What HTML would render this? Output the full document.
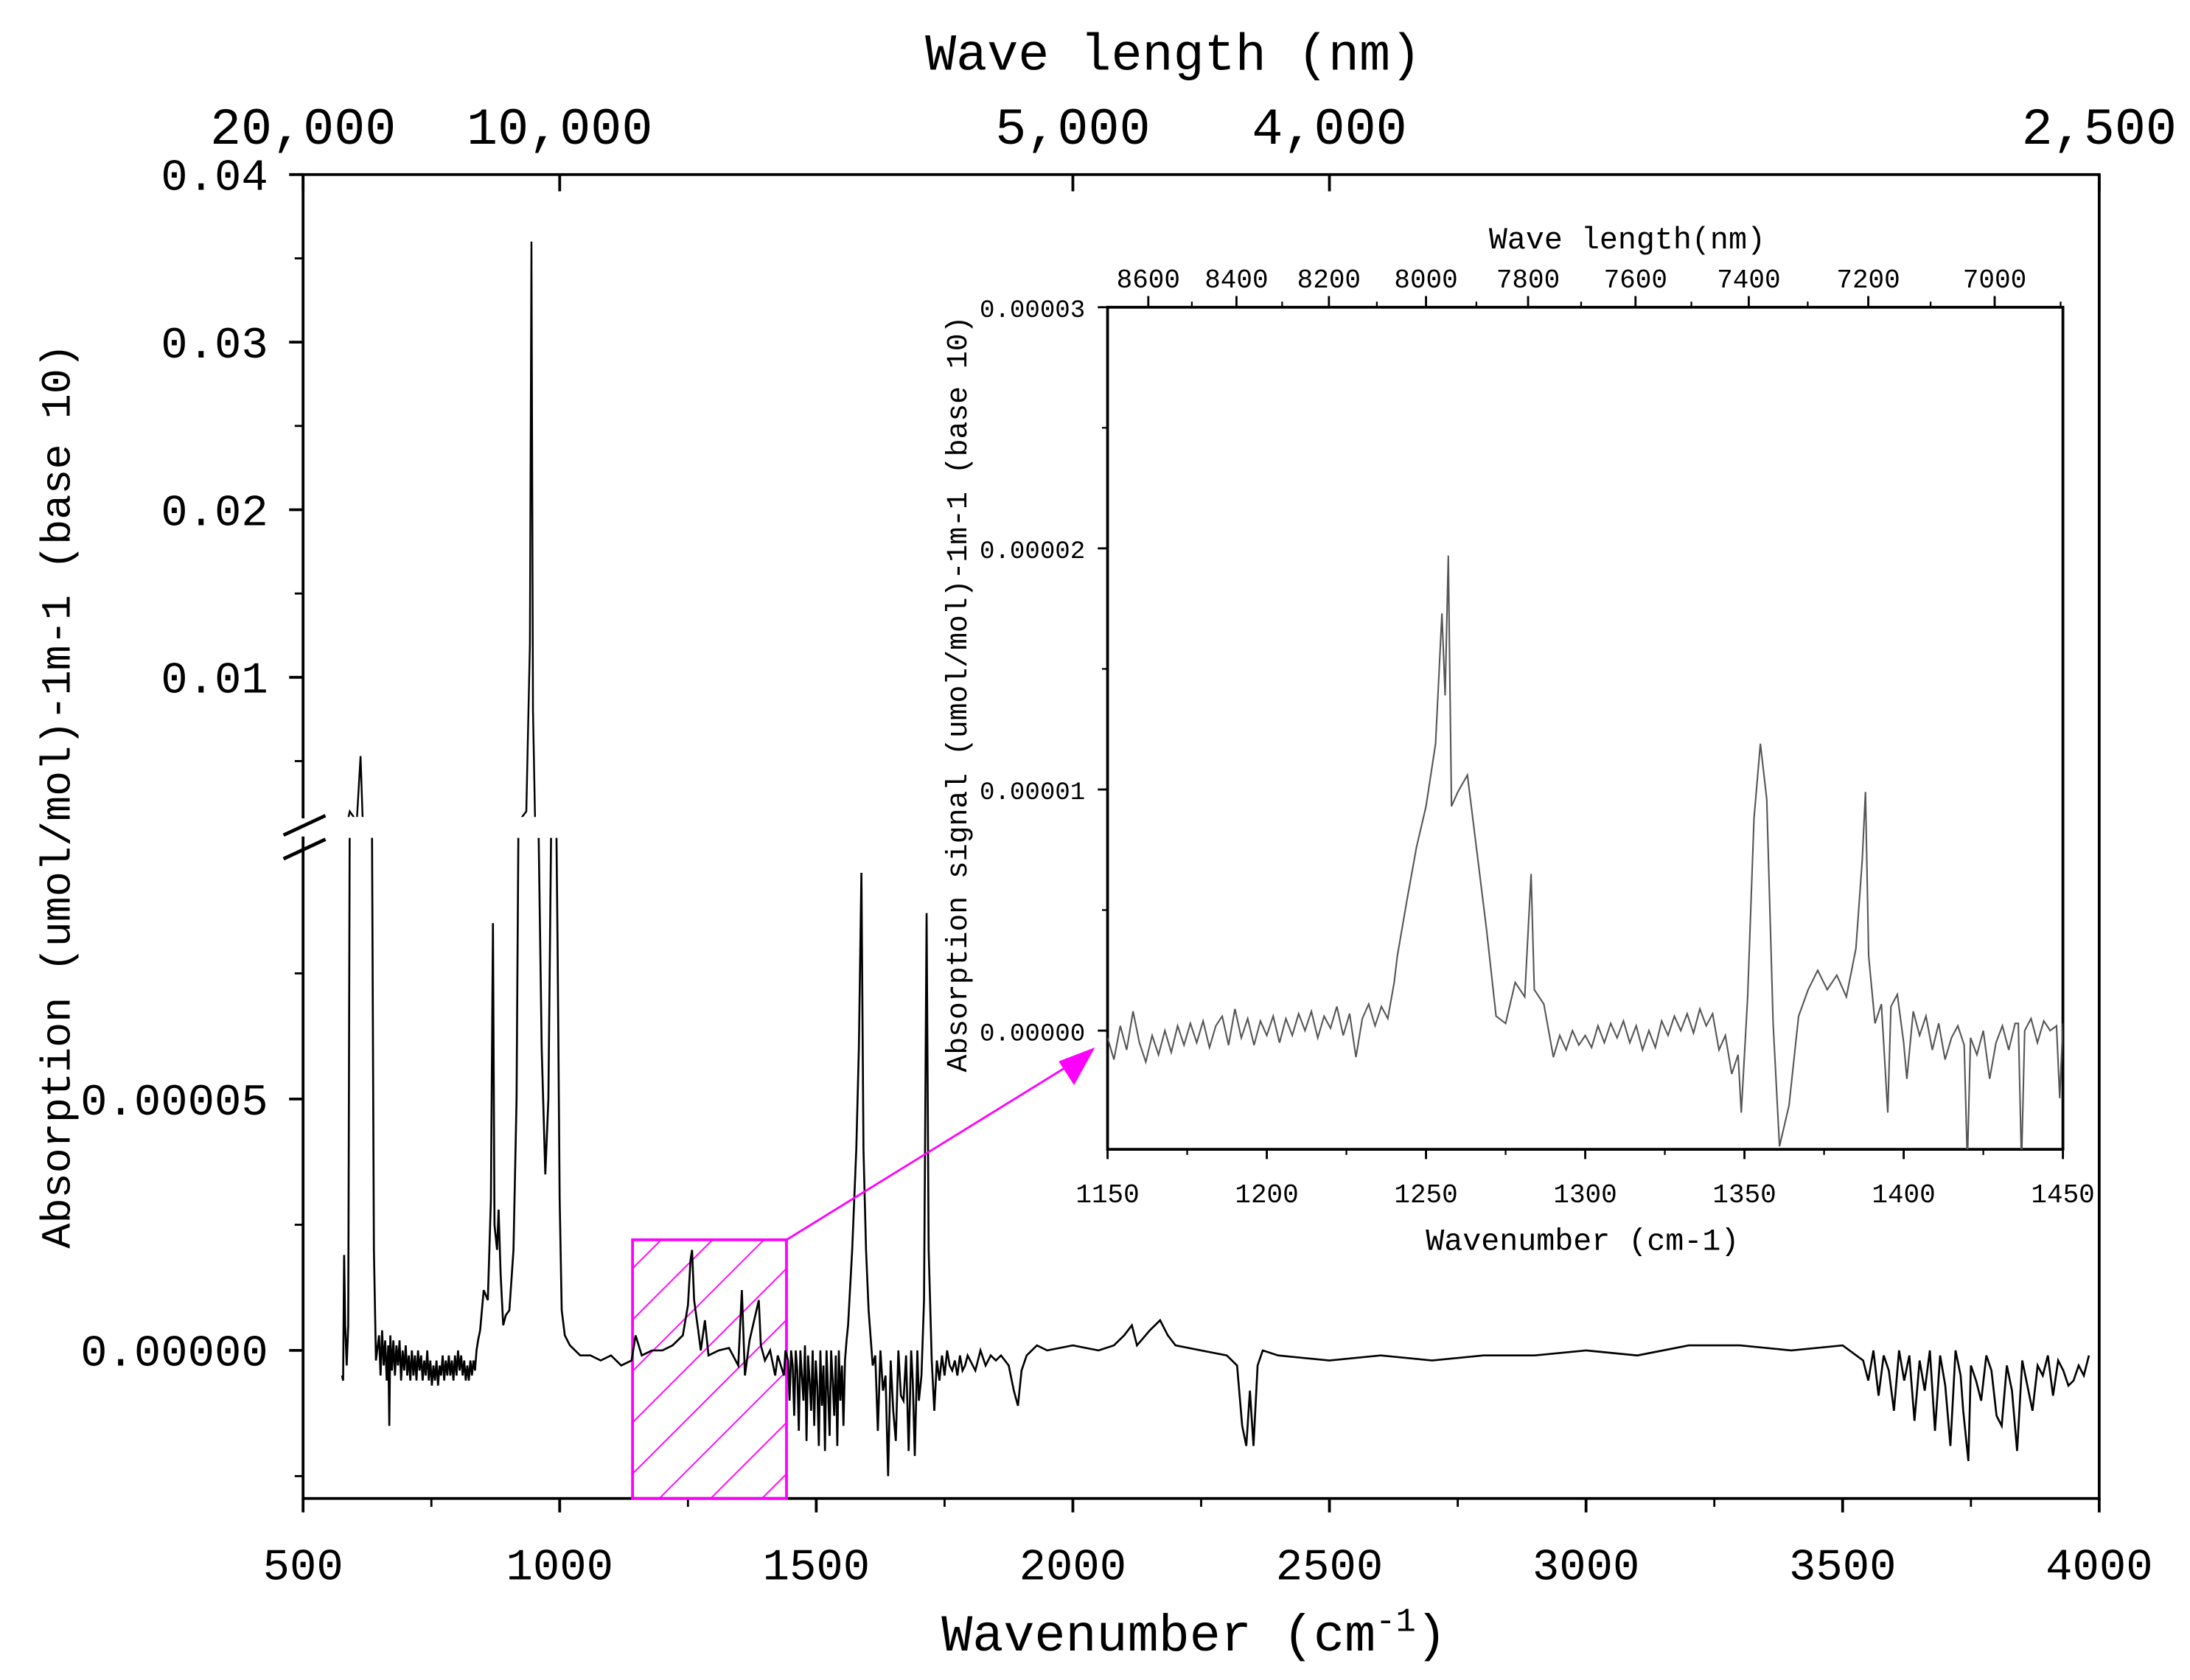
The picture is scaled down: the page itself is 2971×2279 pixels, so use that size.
<!DOCTYPE html>
<html><head><meta charset="utf-8"><style>
html,body{margin:0;padding:0;background:#fff;}
svg{display:block;}
text{font-family:"Liberation Mono","Noto Sans CJK SC",monospace;fill:#000;}
</style></head><body>
<svg id="chart" width="2971" height="2279" viewBox="0 0 1568 1203" preserveAspectRatio="none" xmlns="http://www.w3.org/2000/svg">
<defs>
<clipPath id="clipUpper"><rect x="217" y="125" width="1286" height="460"/></clipPath>
<clipPath id="clipLower"><rect x="217" y="600" width="1286" height="473"/></clipPath>
<clipPath id="clipInset"><rect x="793" y="220" width="684" height="603"/></clipPath>
<pattern id="hatch" patternUnits="userSpaceOnUse" width="26" height="26" patternTransform="rotate(45)">
<line x1="0" y1="0" x2="0" y2="26" stroke="#ff00ff" stroke-width="2"/>
</pattern>
</defs>
<g id="main"></g>
<g id="inset"></g>
</svg>
<script>
// ---- main spectrum data (values in 1e-5 units) ----
const mainX = [576,578,580,582,585,588,591,600,605,612,616,625,634,638,642,
648,651,654,657,660,663,666,668,670,673,676,679,682,685,688,691,694,697,700,703,706,709,712,715,718,721,724,727,730,733,736,739,742,745,748,751,754,757,760,763,766,769,772,775,778,781,784,787,790,793,796,799,802,805,808,811,814,817,820,823,826,829,832,835,838,841,845,
852,860,866,870,873,878,881,885,890,895,902,910,916,920,925,935,942,945,948,952,958,965,972,978,984,988,993,996,1000,1004,1010,1020,1040,1060,1080,1100,1120,1140,1148,1160,1180,1200,1220,1240,1250,1255,1258,1262,1270,1275,1283,1290,1310,1330,1348,1355,1361,1370,1388,1392,1400,1410,1420,1425,1437,1440,
1445,1448,1451,1454,1457,1460,1463,1466,1469,1472,1475,1478,1481,1484,1487,1490,1493,1496,1499,1502,1505,1508,1511,1514,1517,1520,1523,1526,1529,1532,1535,1538,1541,1544,1547,1550,1553,1556,1559,
1562,1570,1578,1583,1588,1592,1597,1602,1610,1615,1620,1625,1630,1635,1640,1645,1650,1655,1660,1665,1670,1675,1680,1685,1688,1692,1697,1700,1705,1710,1715,1719,1725,1730,1735,1740,1745,1750,1755,1760,1765,1770,1775,1780,1785,1790,1795,1800,1810,1820,1830,1840,1850,1860,1875,1885,1893,1900,1910,1930,1950,2000,2050,2080,2100,2115,2125,2150,2170,2185,2200,2250,2300,2320,2330,2338,2345,2352,2360,2370,2400,2500,2600,2700,2800,2900,3000,3100,3200,3300,3400,3500,
3540,3550,3560,3570,3580,3590,3600,3610,3620,3630,3640,3650,3660,3670,3680,3690,3700,3710,3720,3730,3735,3745,3750,3760,3770,3780,3790,3800,3810,3820,3830,3840,3850,3860,3870,3880,3890,3900,3910,3920,3930,3940,3950,3960,3970,3980];
const mainY = [-0.5,-0.6,1.9,0.5,-0.3,0.5,200,150,150,530,150,150,150,2,-0.2,
0.3,-0.5,0.4,-0.3,0.2,-0.6,0.1,-1.5,0.3,-0.4,0.2,-0.5,0.1,-0.3,0.2,-0.6,0.0,-0.4,0.1,-0.5,-0.1,-0.6,0.0,-0.5,-0.1,-0.6,0.0,-0.4,-0.1,-0.6,-0.2,-0.5,0.0,-0.6,-0.2,-0.7,-0.3,-0.6,-0.2,-0.7,-0.3,-0.5,-0.1,-0.6,-0.2,-0.5,-0.1,-0.5,-0.2,-0.6,-0.1,-0.5,0.0,-0.4,-0.1,-0.5,-0.2,-0.6,-0.3,-0.6,-0.2,-0.5,-0.2,-0.4,0.0,0.2,0.4,
1.2,1.0,3.0,8.5,2.5,2.0,2.8,1.5,0.5,0.7,0.8,2,5,12,50,200,1200,3600,800,100,15,6,3.5,5,12,50,20,8,3,0.8,0.3,0.1,-0.1,-0.1,-0.2,-0.1,-0.3,-0.2,0.3,-0.1,0,0,0.1,0.3,0.9,1.8,2.0,1.0,0.4,0,0.6,-0.1,0,0.05,-0.3,1.2,-0.5,0.2,1.0,0.1,-0.2,0,-0.5,-0.1,-0.5,0,
-0.2,-1.0,0,-0.3,-1.3,0,-0.4,-1.6,0,-0.5,-1.0,0.1,-1.8,-0.1,-0.6,-1.2,0,-1.5,-0.2,-0.7,-1.9,0,-1.1,-0.3,-2.0,0,-0.8,-1.7,0,-0.6,-1.3,-0.1,-1.9,0,-1.0,-0.3,-1.5,-0.2,0.2,
0.5,2,4,6,9.5,4,2,0.8,-0.3,-0.1,-1.6,0,-0.8,-0.5,-2.5,-0.2,-1.2,-1.8,0,-0.9,-1.0,-0.1,-2.0,0,-0.6,-2.1,0,-1.0,-0.5,1.0,8.7,2,-0.2,-1.2,-0.2,-0.6,-0.1,-0.5,0,-0.3,-0.4,-0.2,-0.5,-0.1,-0.4,-0.3,-0.1,-0.2,-0.4,0,-0.3,-0.1,-0.2,-0.1,-0.3,-0.8,-1.1,-0.4,-0.1,0.1,0,0.1,0.0,0.1,0.3,0.5,0.1,0.4,0.6,0.3,0.1,0,-0.1,-0.3,-1.5,-1.9,-0.8,-1.9,-0.3,0,-0.1,-0.2,-0.1,-0.2,-0.1,-0.1,0,-0.1,0.1,0.1,0.0,0.1,
-0.2,-0.6,0,-0.9,-0.1,-0.4,-1.2,0,-0.6,-0.1,-1.4,-0.2,-0.8,0,-1.6,-0.1,-0.7,-1.9,0,-0.5,-1.2,-2.2,-0.3,-0.6,-1.0,-0.1,-0.4,-1.3,-1.5,-0.3,-0.8,-2.0,-0.2,-0.7,-1.2,-0.3,-0.5,-0.1,-0.9,-0.2,-0.4,-0.7,-0.6,-0.3,-0.5,-0.1];
const xTicks = [500,1000,1500,2000,2500,3000,3500,4000];
const topTicksNm = [20000,10000,5000,4000,2500];
const topTickLabels = ["20,000","10,000","5,000","4,000","2,500"];
const upperTicks = [0.01,0.02,0.03,0.04];
const upperTickLabels = ["0.01","0.02","0.03","0.04"];
const lowerTicks = [0,5];
const lowerTickLabels = ["0.00000","0.00005"];
// ---- inset data (values in 1e-5 units) ----
const insetX = [1150,1152,1154,1156,1158,1160,1162,1164,1166,1168,1170,1172,1174,1176,1178,1180,1182,1184,1186,1188,1190,1192,1194,1196,1198,1200,1202,1204,1206,1208,1210,1212,1214,1216,1218,1220,1222,1224,1226,1228,1230,1232,1234,1236,1238,1240,
1241,1244,1247,1250,1253,1255,1256,1257,1258,1260,1263,1266,1269,1272,1275,1278,1281,1283,1284,1287,
1290,1292,1294,1296,1298,1300,1302,1304,1306,1308,1310,1312,1314,1316,1318,1320,1322,1324,1326,1328,1330,1332,1334,1336,1338,1340,1342,1344,1346,1348,1349,
1351,1353,1355,1357,1359,1361,1364,1367,1370,1373,1376,1379,1382,1385,1387,1388,1389,
1391,1393,1395,1396,1398,1400,1401,1403,1405,1407,1409,1411,1413,1415,1417,1419,1420,1421,1423,1425,1427,1429,1431,1433,1435,1436,1437,1438,1440,1442,1444,1446,1448,1449,1450];
const insetY = [-0.03,-0.12,0.02,-0.08,0.08,-0.05,-0.13,-0.02,-0.1,0.0,-0.09,0.02,-0.06,0.03,-0.05,0.04,-0.07,0.02,0.06,-0.06,0.09,-0.03,0.05,-0.06,0.04,-0.02,0.06,-0.05,0.05,-0.02,0.07,0.0,0.08,-0.03,0.06,0.01,0.1,-0.02,0.07,-0.11,0.05,0.11,0.02,0.1,0.05,0.2,
0.31,0.54,0.76,0.93,1.19,1.73,1.39,1.97,0.93,0.99,1.06,0.74,0.42,0.06,0.03,0.2,0.14,0.65,0.17,0.11,
-0.11,-0.02,-0.08,0.0,-0.06,-0.02,-0.07,0.02,-0.05,0.03,-0.03,0.04,-0.05,0.02,-0.08,0.0,-0.07,0.04,-0.02,0.06,0.0,0.07,-0.01,0.09,0.02,0.07,-0.08,-0.02,-0.18,-0.1,-0.34,
0.14,0.88,1.19,0.96,0.03,-0.48,-0.31,0.06,0.17,0.25,0.17,0.23,0.14,0.34,0.71,0.99,0.31,
0.03,0.11,-0.34,0.1,0.15,-0.05,-0.2,0.08,-0.02,0.06,-0.08,0.03,-0.12,-0.03,0.02,-0.06,-0.55,-0.03,-0.1,0.0,-0.2,-0.05,0.02,-0.08,0.03,0.03,-0.55,0.0,0.05,-0.05,0.04,0.0,0.02,-0.28,0.03];
const insetXTicks = [1150,1200,1250,1300,1350,1400,1450];
const insetYTicks = [0,1,2,3];
const insetYTickLabels = ["0.00000","0.00001","0.00002","0.00003"];
const insetTopNm = [8600,8400,8200,8000,7800,7600,7400,7200,7000];

const NS = "http://www.w3.org/2000/svg";
function mk(parent, tag, attrs, txt){const e=document.createElementNS(NS,tag);for(const k in attrs)e.setAttribute(k,attrs[k]);if(txt!==undefined)e.textContent=txt;parent.appendChild(e);return e;}
const L=217,R=1503,T=125,B=1073;
function xMain(w){return L+(w-500)/3500*(R-L);}
function yLower(v){return 967-v*36;}
function yUpper(v){return 125+(4000-v)/1000*120;}
const IL=793,IR=1477,IT=220,IB=823;
function xIn(w){return IL+(w-1150)/300*(IR-IL);}
function yIn(v){return 738-v*(738-IT)/3;}

const main=document.getElementById('main');
const inset=document.getElementById('inset');

let fr=mk(main,'rect',{x:L,y:T,width:R-L,height:B-T,fill:'none',stroke:'#000','stroke-width':2});


mk(main,'rect',{x:205,y:586,width:20,height:13,fill:'#fff'});
let b1=mk(main,'line',{x1:203,y1:598,x2:233,y2:584,stroke:'#000','stroke-width':2.5});


let b2=mk(main,'line',{x1:203,y1:615,x2:233,y2:601,stroke:'#000','stroke-width':2.5});



xTicks.forEach(w=>{const x=xMain(w);
 mk(main,'line',{x1:x,y1:B,x2:x,y2:B+10,stroke:'#000','stroke-width':2});
 const t=mk(main,'text',{x:x,y:B+58,'text-anchor':'middle','font-size':32},String(w));
 
 
});
for(let w=750;w<4000;w+=500){const x=xMain(w);mk(main,'line',{x1:x,y1:B,x2:x,y2:B+6,stroke:'#000','stroke-width':1.5});}
topTicksNm.forEach((nm,i)=>{const x=xMain(1e7/nm);
 mk(main,'line',{x1:x,y1:T,x2:x,y2:T+12,stroke:'#000','stroke-width':2});
 const t=mk(main,'text',{x:x,y:103,'text-anchor':'middle','font-size':37},topTickLabels[i]);
 
 
});
upperTicks.forEach((v,i)=>{const y=yUpper(v*1e5);
 mk(main,'line',{x1:L-10,y1:y,x2:L,y2:y,stroke:'#000','stroke-width':2});
 const t=mk(main,'text',{x:L-25,y:y+11,'text-anchor':'end','font-size':32},upperTickLabels[i]);
 
 
});
[0.005,0.015,0.025,0.035].forEach(v=>{const y=yUpper(v*1e5);mk(main,'line',{x1:L-6,y1:y,x2:L,y2:y,stroke:'#000','stroke-width':1.5});});
lowerTicks.forEach((v,i)=>{const y=yLower(v);
 mk(main,'line',{x1:L-10,y1:y,x2:L,y2:y,stroke:'#000','stroke-width':2});
 const t=mk(main,'text',{x:L-25,y:y+11,'text-anchor':'end','font-size':32},lowerTickLabels[i]);
 
 
});
[-2.5,2.5,7.5].forEach(v=>{const y=yLower(v);mk(main,'line',{x1:L-6,y1:y,x2:L,y2:y,stroke:'#000','stroke-width':1.5});});

let tt=mk(main,'text',{x:840,y:50,'text-anchor':'middle','font-size':37},'Wave length (nm)');


let xt=mk(main,'text',{x:855,y:1182,'text-anchor':'middle','font-size':37},'Wavenumber (cm');


mk(xt,'tspan',{dy:-14,'font-size':24},'-1');
mk(xt,'tspan',{dy:14},')');
let yt=mk(main,'text',{x:0,y:0,'text-anchor':'middle','font-size':30,transform:'translate(50,570) rotate(-90)'},'Absorption (umol/mol)-1m-1 (base 10)');



const hx1=xMain(1142),hx2=xMain(1442),hy=yLower(2.2);
let hr=mk(main,'rect',{x:hx1,y:hy,width:hx2-hx1,height:B-hy,fill:'url(#hatch)',stroke:'#ff00ff','stroke-width':2});



function pathFrom(xs,ys,fx,fy){return xs.map((w,i)=>(i?'L':'M')+fx(w).toFixed(2)+','+fy(ys[i]).toFixed(2)).join(' ');}
let pl=mk(main,'path',{d:pathFrom(mainX,mainY,xMain,v=>yLower(Math.min(v,11))),fill:'none',stroke:'#000','stroke-width':1.4,'clip-path':'url(#clipLower)'});


let pu=mk(main,'path',{d:pathFrom(mainX,mainY,xMain,v=>yUpper(Math.max(v,160))),fill:'none',stroke:'#000','stroke-width':1.3,'clip-path':'url(#clipUpper)'});



let ar=mk(main,'line',{x1:hx2,y1:hy,x2:770,y2:760,stroke:'#ff00ff','stroke-width':1.5});


let ah=mk(main,'polygon',{points:'784,750 758,760 769,777',fill:'#ff00ff'});



// ---- inset ----
let ifr=mk(inset,'rect',{x:IL,y:IT,width:IR-IL,height:IB-IT,fill:'#fff',stroke:'#000','stroke-width':2});


insetXTicks.forEach(w=>{const x=xIn(w);
 mk(inset,'line',{x1:x,y1:IB,x2:x,y2:IB+7,stroke:'#000','stroke-width':1.5});
 const t=mk(inset,'text',{x:x,y:IB+38,'text-anchor':'middle','font-size':19},String(w));
 
 
});
for(let w=1175;w<1450;w+=50){const x=xIn(w);mk(inset,'line',{x1:x,y1:IB,x2:x,y2:IB+4,stroke:'#000','stroke-width':1.2});}
insetYTicks.forEach((v,i)=>{const y=yIn(v);
 mk(inset,'line',{x1:IL-7,y1:y,x2:IL,y2:y,stroke:'#000','stroke-width':1.5});
 const t=mk(inset,'text',{x:IL-16,y:y+7,'text-anchor':'end','font-size':18},insetYTickLabels[i]);
 
 
});
[0.5,1.5,2.5].forEach(v=>{const y=yIn(v);mk(inset,'line',{x1:IL-4,y1:y,x2:IL,y2:y,stroke:'#000','stroke-width':1.2});});
insetTopNm.forEach(nm=>{const x=xIn(1e7/nm);
 mk(inset,'line',{x1:x,y1:IT,x2:x,y2:IT-8,stroke:'#000','stroke-width':1.5});
 const t=mk(inset,'text',{x:x,y:IT-14,'text-anchor':'middle','font-size':19},String(nm));
 
 
});
for(let nm=8700;nm>=6900;nm-=200){const x=xIn(1e7/nm);if(x>IL&&x<IR)mk(inset,'line',{x1:x,y1:IT,x2:x,y2:IT-4,stroke:'#000','stroke-width':1.2});}
let it=mk(inset,'text',{x:1165,y:178,'text-anchor':'middle','font-size':22},'Wave length(nm)');


let ixt=mk(inset,'text',{x:1133,y:895,'text-anchor':'middle','font-size':22},'Wavenumber (cm-1)');


let iyt=mk(inset,'text',{x:0,y:0,'text-anchor':'middle','font-size':21,transform:'translate(692,497) rotate(-90)'},'Absorption signal (umol/mol)-1m-1 (base 10)');


let ip=mk(inset,'path',{d:pathFrom(insetX,insetY,xIn,yIn),fill:'none',stroke:'#555','stroke-width':1.1,'clip-path':'url(#clipInset)'});


</script>
</body></html>
